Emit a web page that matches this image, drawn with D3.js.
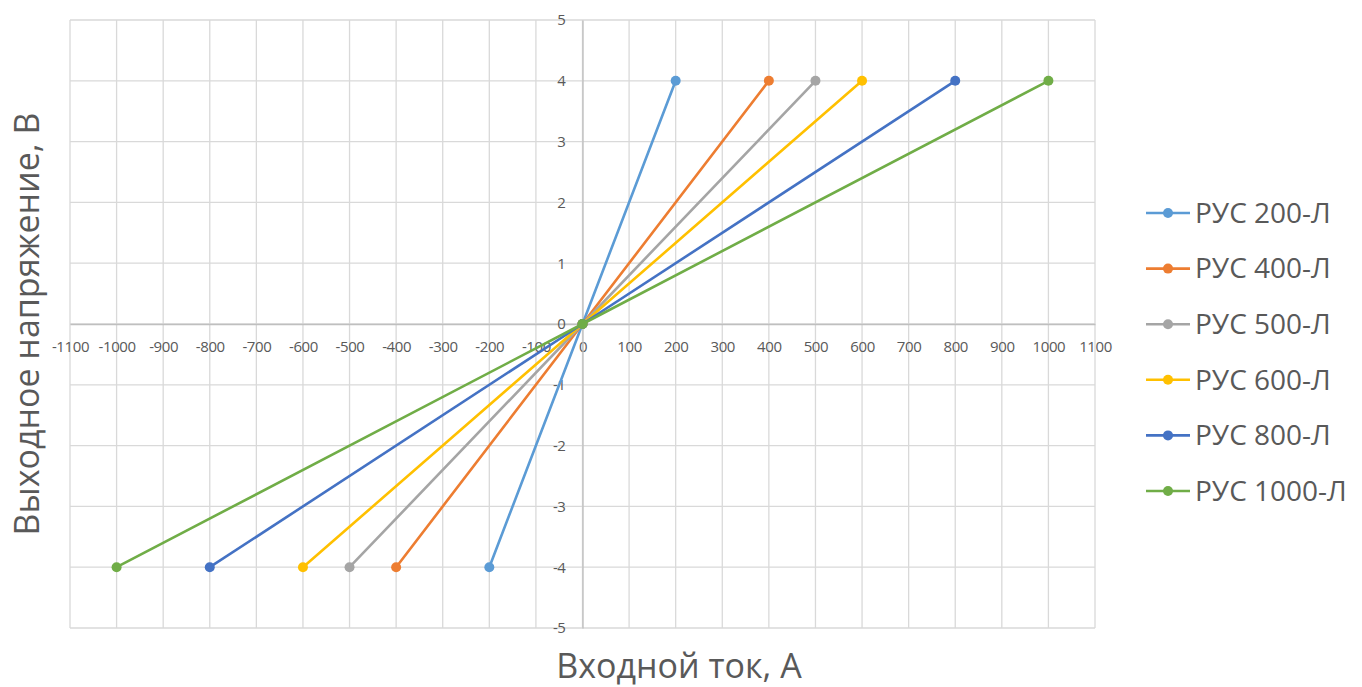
<!DOCTYPE html>
<html>
<head>
<meta charset="utf-8">
<script src="https://cdn.jsdelivr.net/npm/d3@7"></script>
<style>
  body { margin: 0; background: #fff; }
  svg text { font-family: "Open Sans", "Liberation Sans", sans-serif; fill: #595959; }
</style>
</head>
<body>
<svg id="chart" width="1362" height="687"></svg>
<script>
// series names, full-scale current (A), output voltage at full scale (V)
const seriesNames = ["РУС 200-Л", "РУС 400-Л", "РУС 500-Л", "РУС 600-Л", "РУС 800-Л", "РУС 1000-Л"];
const pointsX = [
  [-200, 0, 200],
  [-400, 0, 400],
  [-500, 0, 500],
  [-600, 0, 600],
  [-800, 0, 800],
  [-1000, 0, 1000]
];
const pointsY = [-4, 0, 4];
const colors = ["#5B9BD5", "#ED7D31", "#A5A5A5", "#FFC000", "#4472C4", "#70AD47"];
const xTicks = d3.range(-1100, 1101, 100);
const yTicks = d3.range(-5, 6, 1);

const svg = d3.select("#chart");
const margin = { top: 20, left: 70, right: 267, bottom: 59 };
const width = 1362 - margin.left - margin.right,
  height = 687 - margin.top - margin.bottom;

const x = d3.scaleLinear().domain([-1100, 1100]).range([0, width]);
const y = d3.scaleLinear().domain([-5, 5]).range([height, 0]);

const g = svg.append("g")
  .attr("transform", "translate(" + margin.left + "," + margin.top + ")");

// grid
g.append("g").selectAll("line").data(xTicks).enter().append("line")
  .attr("x1", d => x(d)).attr("x2", d => x(d))
  .attr("y1", 0).attr("y2", height)
  .attr("stroke", "#d9d9d9").attr("stroke-width", 1.3);
g.append("g").selectAll("line").data(yTicks).enter().append("line")
  .attr("x1", 0).attr("x2", width)
  .attr("y1", d => y(d)).attr("y2", d => y(d))
  .attr("stroke", "#d9d9d9").attr("stroke-width", 1.3);

// axes through origin
const fmt = d => String(d);
const xAxis = g.append("g")
  .attr("transform", "translate(0," + y(0) + ")")
  .call(d3.axisBottom(x).tickValues(xTicks).tickFormat(fmt).tickSize(0).tickPadding(10));
const yAxis = g.append("g")
  .attr("transform", "translate(" + x(0) + ",0)")
  .call(d3.axisLeft(y).tickValues(yTicks).tickFormat(fmt).tickSize(0).tickPadding(17));
[xAxis, yAxis].forEach(a => {
  a.select(".domain").attr("stroke", "#bfbfbf").attr("stroke-width", 1.3);
  a.selectAll("text").style("font-size", "15px").attr("fill", "#595959")
    .style("letter-spacing", "-0.4px");
});
yAxis.selectAll("text").attr("dy", "0.32em");
xAxis.selectAll("text").attr("dy", "1.2em");

// lines and markers
const line = d3.line().x(d => x(d[0])).y(d => y(d[1]));
seriesNames.forEach((name, i) => {
  const pts = pointsX[i].map((v, j) => [v, pointsY[j]]);
  g.append("path")
    .datum(pts)
    .attr("d", line)
    .attr("fill", "none")
    .attr("stroke", colors[i])
    .attr("stroke-width", 2.6);
  g.selectAll(".m" + i).data(pts).enter().append("circle")
    .attr("class", "m" + i)
    .attr("cx", d => x(d[0]))
    .attr("cy", d => y(d[1]))
    .attr("r", 5)
    .attr("fill", colors[i]);
});

// legend
const legend = svg.append("g").attr("transform", "translate(1146,213)");
seriesNames.forEach((name, i) => {
  const row = legend.append("g").attr("transform", "translate(0," + (i * 55.6) + ")");
  row.append("line").attr("x1", 0).attr("x2", 44).attr("y1", 0).attr("y2", 0)
    .attr("stroke", colors[i]).attr("stroke-width", 2.6);
  row.append("circle").attr("cx", 22).attr("cy", 0).attr("r", 5).attr("fill", colors[i]);
  row.append("text").attr("x", 49).attr("dy", "0.35em")
    .style("font-size", "28px").text(name);
});

// axis titles
svg.append("text")
  .attr("x", 679)
  .attr("y", 678)
  .style("text-anchor", "middle")
  .style("font-size", "34px")
  .text("Входной ток, А");

svg.append("text")
  .attr("transform", "translate(39," + (margin.top + y(0)) + ") rotate(-90)")
  .style("text-anchor", "middle")
  .style("font-size", "34px")
  .text("Выходное напряжение, В");
</script>
</body>
</html>
